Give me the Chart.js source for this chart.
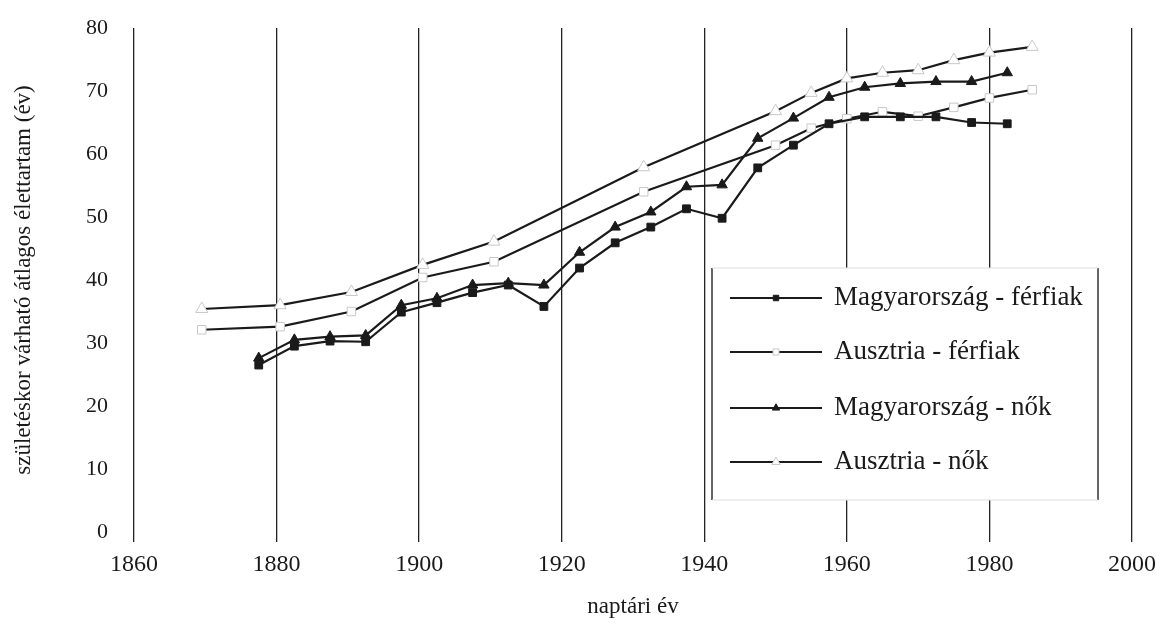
<!DOCTYPE html>
<html>
<head>
<meta charset="utf-8">
<script src="https://cdn.jsdelivr.net/npm/chart.js@4.4.0/dist/chart.umd.min.js"></script>
<style>
  html, body { margin: 0; padding: 0; background: #fff; }
  #wrap { width: 1157px; height: 623px; }
</style>
</head>
<body>
<div id="wrap"><canvas id="lifeChart" width="1157" height="623"></canvas></div>
<script>
// Hungary: 5-year period midpoints
const huYears = [1877.5, 1882.5, 1887.5, 1892.5, 1897.5, 1902.5, 1907.5, 1912.5, 1917.5, 1922.5, 1927.5,
                 1932.5, 1937.5, 1942.5, 1947.5, 1952.5, 1957.5, 1962.5, 1967.5, 1972.5, 1977.5, 1982.5];
const huMen = [26.5, 29.5, 30.3, 30.2, 34.9, 36.4, 38.0, 39.2, 35.8, 41.9, 45.9,
               48.4, 51.3, 49.8, 57.8, 61.4, 64.8, 65.9, 65.9, 65.9, 65.0, 64.8];
const huWomen = [27.6, 30.5, 31.0, 31.2, 36.0, 37.1, 39.2, 39.5, 39.2, 44.4, 48.4,
                 50.8, 54.8, 55.1, 62.5, 65.7, 69.0, 70.6, 71.2, 71.5, 71.5, 72.9];

// Austria
const atYears = [1869.5, 1880.5, 1890.5, 1900.5, 1910.5, 1931.5, 1950, 1955, 1960, 1965, 1970, 1975, 1980, 1986];
const atMen = [32.1, 32.6, 35.0, 40.4, 42.9, 54.0, 61.4, 64.1, 65.6, 66.7, 66.0, 67.4, 68.9, 70.2];
const atWomen = [35.4, 36.0, 38.1, 42.4, 46.1, 57.9, 66.8, 69.7, 72.0, 72.9, 73.3, 74.9, 76.1, 77.0];

const seriesLabels = ['Magyarország - férfiak', 'Ausztria - férfiak', 'Magyarország - nők', 'Ausztria - nők'];
const yearTicks = [1860, 1880, 1900, 1920, 1940, 1960, 1980, 2000];

const serif = 'Liberation Serif, "Times New Roman", serif';
const ink = '#1a1a1a';

function toPoints(xs, ys) {
    return xs.map((x, i) => ({ x: x, y: ys[i] }));
}

// legend drawn as a boxed panel inside the plot, like the scanned original
const boxLegend = {
    id: 'boxLegend',
    afterDraw(chart) {
        const ctx = chart.ctx;
        const left = 712, right = 1098, top = 268, bottom = 500;
        ctx.save();
        ctx.fillStyle = '#fff';
        ctx.fillRect(left, top, right - left, bottom - top);
        ctx.strokeStyle = '#333';
        ctx.lineWidth = 1.5;
        ctx.beginPath();
        ctx.moveTo(left, top); ctx.lineTo(left, bottom);
        ctx.moveTo(right, top); ctx.lineTo(right, bottom);
        ctx.stroke();
        ctx.strokeStyle = '#ddd';
        ctx.lineWidth = 1;
        ctx.beginPath();
        ctx.moveTo(left, top); ctx.lineTo(right, top);
        ctx.moveTo(left, bottom); ctx.lineTo(right, bottom);
        ctx.stroke();

        const rowY = [298, 352, 408, 462];
        chart.data.datasets.forEach((ds, i) => {
            const y = rowY[i];
            ctx.strokeStyle = ds.borderColor;
            ctx.lineWidth = 1.8;
            ctx.beginPath();
            ctx.moveTo(730, y); ctx.lineTo(822, y);
            ctx.stroke();
            ctx.fillStyle = ds.pointBackgroundColor;
            ctx.strokeStyle = ds.pointBorderColor;
            ctx.lineWidth = ds.pointBorderWidth;
            Chart.helpers.drawPoint(ctx, {
                pointStyle: ds.pointStyle,
                radius: ds.pointRadius * 0.7,
                borderWidth: ds.pointBorderWidth
            }, 776, y);
            ctx.fillStyle = ink;
            ctx.font = '27px ' + serif;
            ctx.textBaseline = 'middle';
            ctx.textAlign = 'left';
            ctx.fillText(ds.label, 834, y);
        });
        ctx.restore();
    }
};

const ctx = document.getElementById('lifeChart').getContext('2d');
const lifeChart = new Chart(ctx, {
    type: 'line',
    data: {
        datasets: [{
            label: seriesLabels[0],
            data: toPoints(huYears, huMen),
            borderColor: ink,
            borderWidth: 2.2,
            pointStyle: 'rect',
            pointRadius: 5.5,
            pointBackgroundColor: ink,
            pointBorderColor: ink,
            pointBorderWidth: 1
        }, {
            label: seriesLabels[1],
            data: toPoints(atYears, atMen),
            borderColor: ink,
            borderWidth: 2.2,
            pointStyle: 'rect',
            pointRadius: 6,
            pointBackgroundColor: '#fff',
            pointBorderColor: '#c8c8c8',
            pointBorderWidth: 1
        }, {
            label: seriesLabels[2],
            data: toPoints(huYears, huWomen),
            borderColor: ink,
            borderWidth: 2.2,
            pointStyle: 'triangle',
            pointRadius: 6,
            pointBackgroundColor: ink,
            pointBorderColor: ink,
            pointBorderWidth: 1
        }, {
            label: seriesLabels[3],
            data: toPoints(atYears, atWomen),
            borderColor: ink,
            borderWidth: 2.2,
            pointStyle: 'triangle',
            pointRadius: 7,
            pointBackgroundColor: '#fff',
            pointBorderColor: '#c8c8c8',
            pointBorderWidth: 1
        }]
    },
    options: {
        responsive: false,
        animation: false,
        layout: { padding: { left: 0, right: 25, top: 28, bottom: 0 } },
        elements: { line: { tension: 0 } },
        plugins: {
            legend: { display: false },
            tooltip: { enabled: false }
        },
        scales: {
            x: {
                type: 'linear',
                min: 1860,
                max: 2000,
                afterBuildTicks: (scale) => { scale.ticks = yearTicks.map(v => ({ value: v })); },
                afterFit: (scale) => {
                    scale.height = 91;
                    scale.paddingLeft = 0;
                    scale.paddingRight = 0;
                },
                grid: { color: '#222', lineWidth: 1.3, tickLength: 10, drawTicks: true },
                border: { display: false },
                ticks: {
                    color: ink,
                    font: { family: serif, size: 24 },
                    padding: 8,
                    maxRotation: 0,
                    callback: (v) => String(v)
                },
                title: {
                    display: true,
                    text: 'naptári év',
                    color: ink,
                    font: { family: serif, size: 23 },
                    padding: { top: 6, bottom: 2 }
                }
            },
            y: {
                min: 0,
                max: 80,
                ticks: {
                    stepSize: 10,
                    color: ink,
                    font: { family: serif, size: 22 },
                    padding: 26
                },
                afterFit: (scale) => {
                    scale.width = 134;
                    scale.paddingTop = 0;
                    scale.paddingBottom = 0;
                },
                grid: { display: false, drawTicks: false },
                border: { display: false },
                title: {
                    display: true,
                    text: 'születéskor várható átlagos élettartam (év)',
                    color: ink,
                    font: { family: serif, size: 23 },
                    padding: { top: 10, bottom: 4 }
                }
            }
        }
    },
    plugins: [boxLegend]
});
</script>
</body>
</html>
